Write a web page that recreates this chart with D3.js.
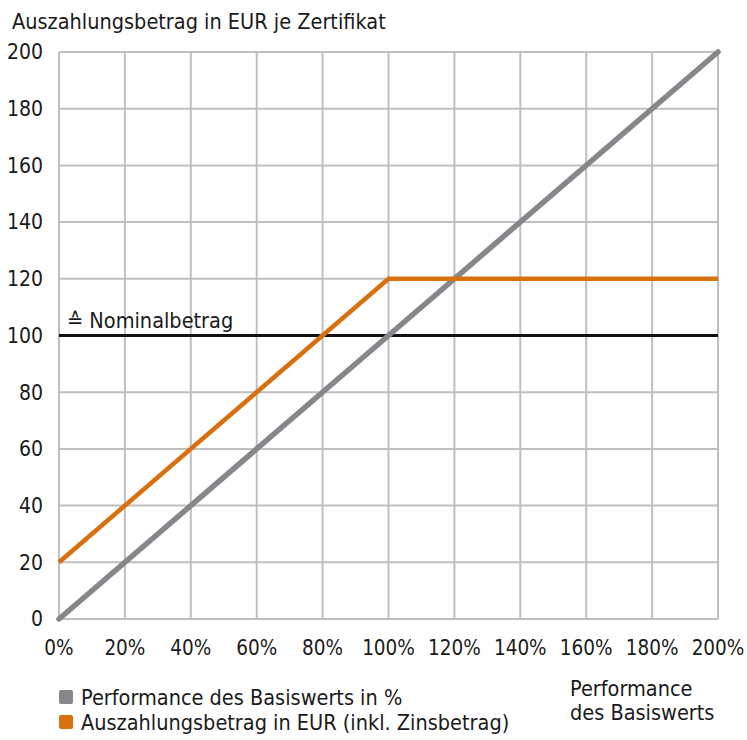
<!DOCTYPE html>
<html>
<head>
  <meta charset="utf-8">
  <title>Auszahlungsprofil</title>
  <style>
    body { margin: 0; background: white; }
    svg text {
      font-family: "DejaVu Sans Condensed", "Liberation Sans Narrow", sans-serif;
      font-stretch: condensed;
      fill: #1a1a1a;
    }
    .grid line { stroke: #bfbfbf; stroke-width: 2; }
  </style>
</head>
<body>
  <div id="chart"></div>
  <script src="https://cdn.jsdelivr.net/npm/d3@7"></script>
  <script>
    // performance of the underlying in %
    const perf = [0, 100, 200];
    const basis = [0, 100, 200];        // gray line
    const payout = [20, 120, 120];      // orange line
    const nominal = 100;

    const xTicks = [0, 20, 40, 60, 80, 100, 120, 140, 160, 180, 200];
    const yTicks = [0, 20, 40, 60, 80, 100, 120, 140, 160, 180, 200];

    const legendItems = [
      { label: "Performance des Basiswerts in %", color: "#86878b" },
      { label: "Auszahlungsbetrag in EUR (inkl. Zinsbetrag)", color: "#d8700e" }
    ];

    const width = 747, height = 740;
    const margin = { left: 59, right: 29, top: 52, bottom: 121 };

    const svg = d3.select("#chart").append("svg")
      .attr("width", width)
      .attr("height", height);

    const x = d3.scaleLinear().domain([0, 200]).range([margin.left, width - margin.right]);
    const y = d3.scaleLinear().domain([0, 200]).range([height - margin.bottom, margin.top]);

    // grid
    const grid = svg.append("g").attr("class", "grid");
    grid.selectAll(".vx").data(xTicks).enter().append("line")
      .attr("x1", d => x(d)).attr("x2", d => x(d))
      .attr("y1", y(0)).attr("y2", y(200));
    grid.selectAll(".hy").data(yTicks).enter().append("line")
      .attr("x1", x(0)).attr("x2", x(200))
      .attr("y1", d => y(d)).attr("y2", d => y(d));

    // axis labels
    svg.selectAll(".ylab").data(yTicks).enter().append("text")
      .attr("x", 43).attr("y", d => y(d))
      .attr("dy", "0.35em")
      .attr("text-anchor", "end")
      .style("font-size", "21px")
      .text(d => d);

    svg.selectAll(".xlab").data(xTicks).enter().append("text")
      .attr("x", d => x(d)).attr("y", y(0) + 29)
      .attr("dy", "0.35em")
      .attr("text-anchor", "middle")
      .style("font-size", "20.5px")
      .text(d => d + "%");

    svg.append("text")
      .attr("x", 12).attr("y", 29)
      .style("font-size", "21.5px")
      .text("Auszahlungsbetrag in EUR je Zertifikat");

    // nominal line
    svg.append("line")
      .attr("x1", x(0)).attr("x2", x(200))
      .attr("y1", y(nominal)).attr("y2", y(nominal))
      .attr("stroke", "#111").attr("stroke-width", 3);

    svg.append("text")
      .attr("x", 67).attr("y", y(nominal) - 8)
      .style("font-size", "21.5px")
      .text("\u2259 Nominalbetrag");

    const line = d3.line().x((d, i) => x(perf[i])).y(d => y(d));

    svg.append("path")
      .datum(basis)
      .attr("d", line)
      .attr("fill", "none")
      .attr("stroke", legendItems[0].color)
      .attr("stroke-width", 5.5)
      .attr("stroke-linecap", "round");

    svg.append("path")
      .datum(payout)
      .attr("d", line)
      .attr("fill", "none")
      .attr("stroke", legendItems[1].color)
      .attr("stroke-width", 4.5);

    // legend
    const leg = svg.selectAll(".leg").data(legendItems).enter().append("g")
      .attr("transform", (d, i) => `translate(59, ${697 + i * 25})`);
    leg.append("rect")
      .attr("x", 0).attr("y", -7).attr("width", 14).attr("height", 14).attr("rx", 2)
      .attr("fill", d => d.color);
    leg.append("text")
      .attr("x", 22).attr("y", 0).attr("dy", "0.35em")
      .style("font-size", "21.5px")
      .text(d => d.label);

    svg.append("text")
      .attr("x", 570).attr("y", 688).attr("dy", "0.35em")
      .style("font-size", "21.5px")
      .text("Performance");
    svg.append("text")
      .attr("x", 570).attr("y", 712).attr("dy", "0.35em")
      .style("font-size", "21.5px")
      .text("des Basiswerts");
  </script>
</body>
</html>
